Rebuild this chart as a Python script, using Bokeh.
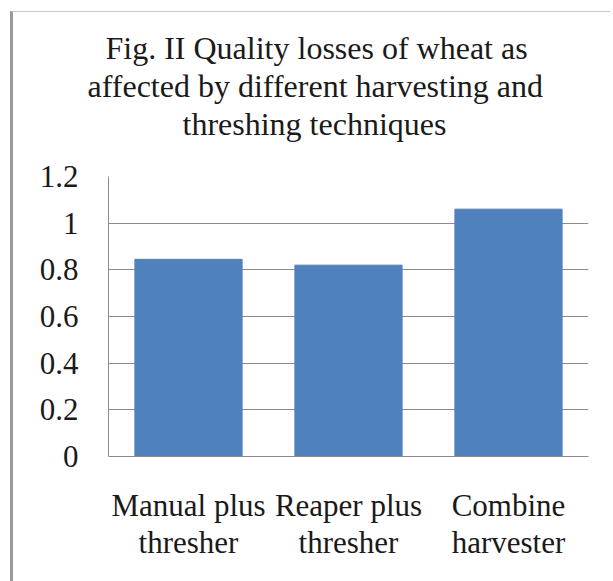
from bokeh.plotting import figure
from bokeh.models import (ColumnDataSource, Range1d, FixedTicker, CategoricalAxis, Title,
                          CustomJSTickFormatter)
from bokeh.embed import file_html
from bokeh.resources import INLINE

categories = ["Manual plus thresher", "Reaper plus thresher", "Combine harvester"]
label_line1 = {"Manual plus thresher": "Manual plus", "Reaper plus thresher": "Reaper plus",
               "Combine harvester": "Combine"}
label_line2 = {"Manual plus thresher": "thresher", "Reaper plus thresher": "thresher",
               "Combine harvester": "harvester"}
losses = [0.845, 0.82, 1.06]
y_ticks = [0, 0.2, 0.4, 0.6, 0.8, 1.0, 1.2]
y_tick_labels = {0: "0", 0.2: "0.2", 0.4: "0.4", 0.6: "0.6", 0.8: "0.8", 1.0: "1", 1.2: "1.2"}
title_lines = ["Fig. II Quality losses of wheat as",
               "affected by different harvesting and",
               "threshing techniques"]
title_offsets = [-3, -21, 74]

FONT = "Liberation Serif"
TXT = "#1a1a1a"

src = ColumnDataSource(data=dict(cat=categories, val=losses))

p = figure(x_range=categories, y_range=Range1d(0, 1.2), width=600, height=570,
           output_backend="svg", toolbar_location=None, title=None,
           min_border_left=95, min_border_right=25, min_border_top=164, min_border_bottom=126)
p.styles = {"margin-left": "10px", "margin-top": "11px",
            "border-left": "3px solid #9a9a9a", "border-top": "1px solid #c8c8c8"}

p.vbar(x="cat", top="val", width=0.67, source=src, fill_color="#4F81BD", line_color="#4F81BD")

# spacer between frame and title block
p.add_layout(Title(text=" ", text_font_size="1px", standoff=32), "above")
for line, off in zip(reversed(title_lines), reversed(title_offsets)):
    p.add_layout(Title(text=line, align="left", offset=off, text_font=FONT,
                       text_font_size="32px", text_font_style="normal", text_color=TXT,
                       standoff=0), "above")

p.x_range.range_padding = 0
p.yaxis.ticker = FixedTicker(ticks=y_ticks)
p.yaxis.major_label_overrides = y_tick_labels
p.xaxis.formatter = CustomJSTickFormatter(args=dict(m=label_line1), code="return m[tick];")

ax2 = CategoricalAxis(formatter=CustomJSTickFormatter(args=dict(m=label_line2),
                                                      code="return m[tick];"))
p.add_layout(ax2, "below")

for ax in (p.xaxis[0], ax2, p.yaxis[0]):
    ax.major_label_text_font = FONT
    ax.major_label_text_font_size = "31px"
    ax.major_label_text_color = TXT
    ax.major_tick_line_color = None
    ax.minor_tick_line_color = None
p.xaxis[0].axis_line_color = "#8c8c8c"
p.yaxis[0].axis_line_color = "#8c8c8c"
ax2.axis_line_color = None
p.yaxis.major_label_standoff = 24
p.xaxis[0].major_label_standoff = 25
ax2.major_label_standoff = -7

p.xgrid.grid_line_color = None
p.ygrid.grid_line_color = "#8c8c8c"
p.outline_line_color = None
p.background_fill_color = "white"
p.border_fill_color = "white"

open("out.html", "w").write(file_html(p, INLINE))
